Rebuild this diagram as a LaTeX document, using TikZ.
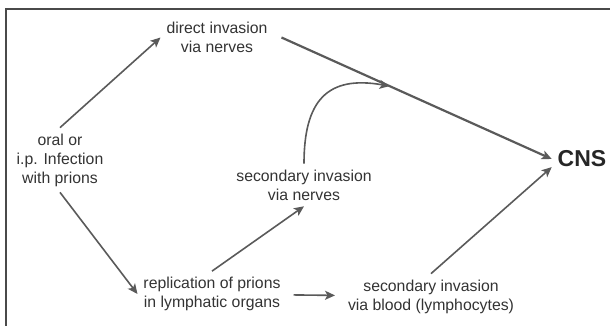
\documentclass[tikz,border=0pt]{standalone}
\usepackage{fontspec}
\setmainfont{Liberation Sans}
\usetikzlibrary{arrows.meta,calc}
\definecolor{ink}{HTML}{333333}
\definecolor{wire}{HTML}{5A5A5A}
\definecolor{rim}{HTML}{4A4A4A}
\tikzset{
  lbl/.style   = {text=ink, align=center, inner sep=0pt, outer sep=3pt,
                  font=\fontsize{7.9}{9.5}\selectfont},
  goal/.style  = {text=black!85, inner sep=0pt, outer sep=3pt,
                  font=\fontsize{11.5}{13}\selectfont\bfseries},
  flow/.style  = {->, draw=wire, line width=0.8pt,
                  >={Stealth[length=5pt,width=4.5pt,inset=1.2pt]}},
  trunk/.style = {flow, line width=1.1pt},
}

\begin{document}
\begin{tikzpicture}[x=0.5pt,y=0.5pt]
    \useasboundingbox (0,0) rectangle (610,326);
    \draw[rim,line width=1pt] (610,317) -- (5.5,317) -- (5.5,0);
    \node[lbl] (oral) at (60,166) {oral or\\i.p. Infection\\with prions};
    \node[lbl] (direct) at (217,288.5) {direct invasion\\via nerves};
    \node[lbl] (nerves) at (304,141) {secondary invasion\\via nerves};
    \node[lbl] (replication) at (212,32) {replication of prions\\in lymphatic organs};
    \node[lbl] (blood) at (431,29.5) {secondary invasion\\via blood (lymphocytes)};
    \node[goal] (cns) at (582,167) {CNS};
    \draw[flow] (oral.north) -- (direct.west);
    \draw[trunk] ([xshift=4pt]direct.east) -- coordinate[pos=0.4] (join) (cns.west);
    \draw[flow] (oral.south) -- (replication.west);
    \draw[flow] (replication.north) -- (nerves.south);
    \draw[flow] (nerves.north) to[out=90,in=170,looseness=1.4] (join);
    \draw[flow,shorten <=3.5pt,shorten >=3.5pt] (replication) -- (blood);
    \draw[flow] (blood.north) -- (cns.195);
\end{tikzpicture}
\end{document}
